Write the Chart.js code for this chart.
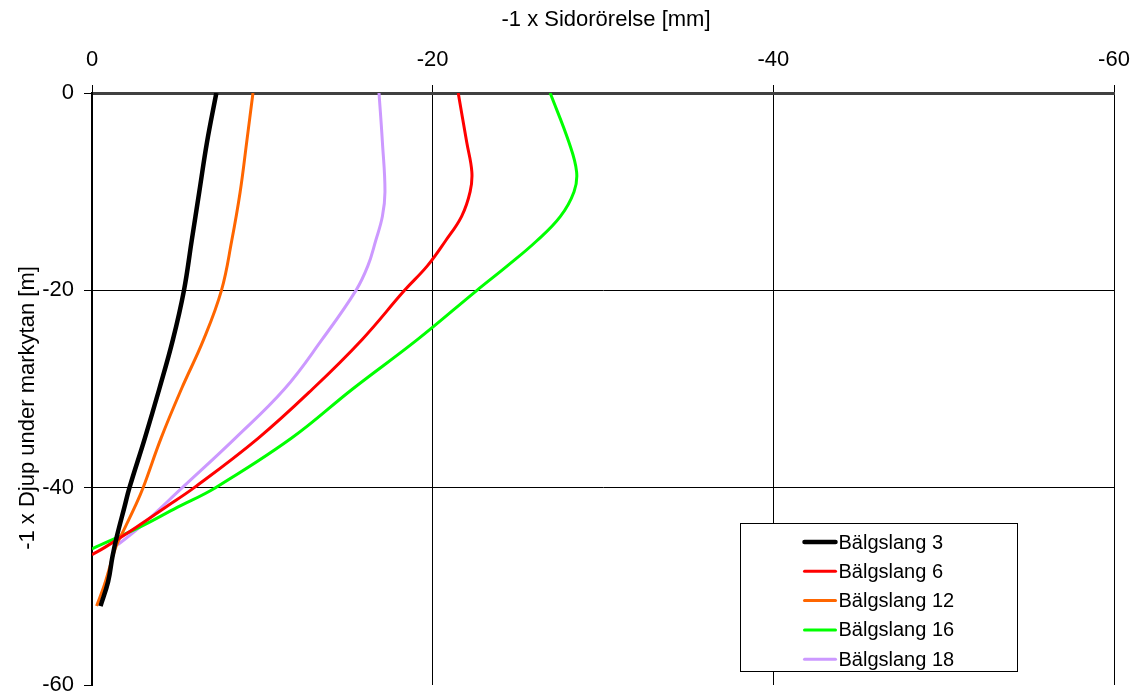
<!DOCTYPE html>
<html>
<head>
<meta charset="utf-8">
<script src="https://cdn.jsdelivr.net/npm/chart.js@4/dist/chart.umd.min.js"></script>
<style>
  html, body { margin: 0; padding: 0; background: #fff; }
  #wrap { width: 1142px; height: 699px; }
</style>
</head>
<body>
<div id="wrap"><canvas id="c" width="1142" height="699"></canvas></div>
<script>
// Depth below ground surface [m] and lateral displacement [mm] per inclinometer tube
const seriesLabels = ['Bälgslang 3', 'Bälgslang 6', 'Bälgslang 12', 'Bälgslang 16', 'Bälgslang 18'];

const depth3 = [0, 5, 10, 15, 20, 25, 30, 35, 40, 42, 45, 47, 49.5, 52];
const disp3  = [7.3, 6.75, 6.3, 5.85, 5.4, 4.75, 3.95, 3.1, 2.2, 1.9, 1.45, 1.2, 0.95, 0.5];

const depth6 = [0, 5, 8, 10, 12.5, 15, 17.5, 20, 25, 30, 35, 40, 42, 44, 46, 46.8];
const disp6  = [21.5, 22.0, 22.3, 22.2, 21.7, 20.75, 19.7, 18.35, 15.85, 12.95, 9.75, 6.0, 4.3, 2.6, 0.8, 0];

const depth12 = [0, 5, 10, 15, 20, 25, 30, 35, 40, 42, 44, 46, 48, 50, 52];
const disp12  = [9.45, 9.08, 8.7, 8.2, 7.6, 6.55, 5.25, 4.05, 3.0, 2.5, 1.95, 1.4, 1.05, 0.7, 0.27];

const depth16 = [0, 5, 8, 10, 12.5, 15, 17.5, 20, 25, 30, 35, 40, 42, 44, 46.2];
const disp16  = [26.9, 28.0, 28.45, 28.3, 27.5, 26.1, 24.4, 22.6, 19.1, 15.3, 11.7, 7.25, 5.0, 2.8, 0];

const depth18 = [0, 5, 10, 12.5, 15, 17.5, 20, 25, 30, 35, 40, 44, 45.8];
const disp18  = [16.85, 17.05, 17.2, 17.05, 16.65, 16.2, 15.5, 13.5, 11.3, 8.4, 5.3, 2.8, 1.5];

const xTicks = [0, -20, -40, -60];
const yTicks = [0, -20, -40, -60];

const colors = ['#000000', '#ff0000', '#ff6600', '#00ff00', '#cc99ff'];
const widths = [4.5, 3, 3, 3, 3];

// Both axes are plotted as "-1 x" quantities
function toPoints(depths, disps) {
  return depths.map((d, i) => ({ x: -disps[i], y: -d }));
}

const allSeries = [
  toPoints(depth3, disp3),
  toPoints(depth6, disp6),
  toPoints(depth12, disp12),
  toPoints(depth16, disp16),
  toPoints(depth18, disp18)
];

const FONT = '"Liberation Sans", Arial, sans-serif';

// Axis titles and a boxed legend inside the plot area
const decorations = {
  id: 'decorations',
  afterDatasetsDraw(chart) {
    const ctx = chart.ctx;
    const area = chart.chartArea;
    ctx.save();
    ctx.fillStyle = '#000';
    ctx.font = '22px ' + FONT;
    ctx.textAlign = 'center';
    ctx.textBaseline = 'middle';
    ctx.fillText('-1 x Sidorörelse [mm]', (area.left + area.right) / 2 + 3, 20);

    ctx.save();
    ctx.translate(28, (area.top + area.bottom) / 2 + 19);
    ctx.rotate(-Math.PI / 2);
    ctx.fillText('-1 x Djup under markytan [m]', 0, 0);
    ctx.restore();

    // legend
    const boxW = 277, boxH = 148;
    const bx = area.right - 97 - boxW + 0.5;
    const by = area.bottom - 14 - boxH + 0.5;
    ctx.fillStyle = '#fff';
    ctx.fillRect(bx, by, boxW, boxH);
    ctx.strokeStyle = '#000';
    ctx.lineWidth = 1;
    ctx.strokeRect(bx, by, boxW, boxH);

    ctx.font = '20px ' + FONT;
    ctx.textAlign = 'left';
    ctx.textBaseline = 'middle';
    chart.data.datasets.forEach((ds, i) => {
      const cy = by + 18.5 + i * 29.3;
      ctx.strokeStyle = ds.borderColor;
      ctx.lineWidth = ds.borderWidth;
      ctx.lineCap = 'round';
      ctx.beginPath();
      ctx.moveTo(bx + 64, cy);
      ctx.lineTo(bx + 95, cy);
      ctx.stroke();
      ctx.fillStyle = '#000';
      ctx.fillText(ds.label, bx + 98, cy + 1);
    });
    ctx.restore();
  }
};

new Chart(document.getElementById('c'), {
  type: 'line',
  data: {
    datasets: allSeries.map((pts, i) => ({
      label: seriesLabels[i],
      data: pts,
      borderColor: colors[i],
      backgroundColor: colors[i],
      borderWidth: widths[i],
      pointRadius: 0,
      fill: false,
      tension: 0.4
    }))
  },
  options: {
    responsive: false,
    devicePixelRatio: 1,
    animation: false,
    indexAxis: 'y',
    layout: { padding: { left: 0, right: 28, top: 0, bottom: 14 } },
    scales: {
      x: {
        type: 'linear',
        position: 'top',
        reverse: true,
        min: -60,
        max: 0,
        afterBuildTicks(scale) { scale.ticks = xTicks.map(v => ({ value: v })); },
        ticks: { color: '#000', font: { family: FONT, size: 22 }, padding: 12, maxRotation: 0 },
        grid: {
          color: c => (c.tick && c.tick.value === 0) ? 'rgba(0,0,0,0)' : '#000',
          lineWidth: 1,
          tickLength: 8,
          tickColor: '#000'
        },
        border: { color: '#404040', width: 3 },
        afterFit(scale) {
          scale.height = 93;
          scale.paddingLeft = 0;
          scale.paddingRight = 0;
        }
      },
      y: {
        type: 'linear',
        min: -60,
        max: 0,
        afterBuildTicks(scale) { scale.ticks = yTicks.map(v => ({ value: v })); },
        ticks: { color: '#000', font: { family: FONT, size: 22 }, padding: 10 },
        grid: {
          color: c => (c.tick && (c.tick.value === -20 || c.tick.value === -40)) ? '#000' : 'rgba(0,0,0,0)',
          lineWidth: 1,
          tickLength: 8,
          tickColor: '#000'
        },
        border: { color: '#000', width: 2 },
        afterFit(scale) {
          scale.width = 92;
          scale.paddingTop = 0;
          scale.paddingBottom = 0;
        }
      }
    },
    plugins: {
      legend: { display: false },
      tooltip: { enabled: false }
    }
  },
  plugins: [decorations]
});
</script>
</body>
</html>
